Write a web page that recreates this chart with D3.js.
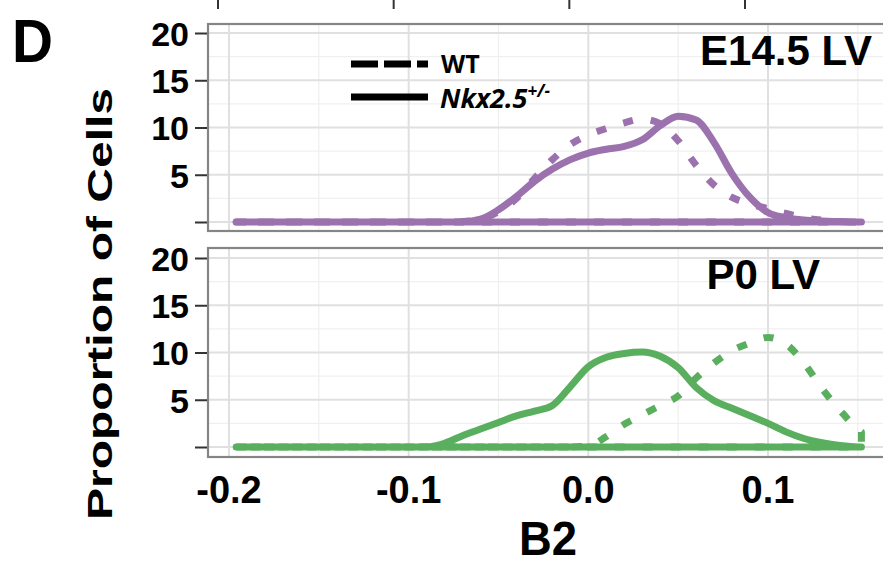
<!DOCTYPE html>
<html>
<head>
<meta charset="utf-8">
<script src="https://cdn.jsdelivr.net/npm/d3@7"></script>
<style>
  body { margin: 0; background: #fff; }
  text { font-family: "Liberation Sans", Arial, sans-serif; font-weight: bold; fill: #000; }
  .legend text { font-family: "Open Sans", sans-serif; }
</style>
</head>
<body>
<div id="container"></div>
<script>
// B2 grid shared by all density curves
var b2 = [-0.196, -0.10, -0.09, -0.08, -0.07, -0.06, -0.05, -0.04, -0.03, -0.02, -0.01,
          0.00, 0.01, 0.02, 0.03, 0.04, 0.05, 0.06, 0.07, 0.08, 0.09, 0.10, 0.11, 0.12,
          0.13, 0.14, 0.15, 0.152];
// E14.5 LV
var e14Wt  = [0, 0, 0, 0, 0.05, 0.3, 1.1, 2.5, 4.6, 6.6, 8.2, 9.2, 9.9, 10.5, 10.9, 10.4,
              8.6, 6.0, 3.9, 2.6, 1.9, 1.4, 0.9, 0.45, 0.2, 0.05, 0, 0];
var e14Nkx = [0, 0, 0, 0, 0.03, 0.3, 1.3, 2.7, 4.3, 5.6, 6.6, 7.3, 7.7, 8.0, 8.7, 10.2,
              11.2, 10.8, 8.4, 5.1, 2.6, 1.0, 0.45, 0.2, 0.1, 0.05, 0, 0];
// P0 LV
var p0Wt   = [0, 0, 0, 0, 0, 0, 0, 0, 0, 0, 0, 0.1, 1.1, 2.4, 3.4, 4.4, 5.4, 7.3, 8.9,
              10.2, 11.0, 11.6, 10.9, 8.9, 6.2, 3.9, 1.9, 1.6];
var p0Nkx  = [0, 0, 0.02, 0.4, 1.2, 1.9, 2.6, 3.3, 3.8, 4.4, 6.4, 8.5, 9.5, 9.9, 10.05,
              9.6, 8.4, 6.3, 4.9, 4.1, 3.3, 2.5, 1.6, 0.9, 0.45, 0.15, 0, 0];

var panelNames = ["E14.5 LV", "P0 LV"];
var yTicks = [0, 5, 10, 15, 20];
var yTickLabels = ["", "5", "10", "15", "20"];
var xTicks = [-0.2, -0.1, 0.0, 0.1];
var xTickLabels = ["-0.2", "-0.1", "0.0", "0.1"];

var W = 883, H = 566;
var svg = d3.select("div#container").append("svg").attr("width", W).attr("height", H);

var x = d3.scaleLinear().domain([-0.2, 0.1]).range([229, 768]);
var panelLeft = 208, panelRight = 900;

var panels = [
  {name: panelNames[0], top: 24, bottom: 231, y0: 222, y20: 33, wt: e14Wt, nkx: e14Nkx,
   color: "#9b72ae", tx: 872, ty: 65},
  {name: panelNames[1], top: 248, bottom: 457, y0: 447, y20: 258, wt: p0Wt, nkx: p0Nkx,
   color: "#5aaf5f", tx: 820, ty: 289}
];

// leftover ticks of the panel above
var stub = d3.scaleLinear().domain([0, 3]).range([218, 745]);
svg.selectAll("line.stub").data(d3.range(4)).enter().append("line")
  .attr("x1", stub).attr("x2", stub).attr("y1", 0).attr("y2", 9)
  .attr("stroke", "#333").attr("stroke-width", 2);

panels.forEach(function(p, i) {
  var y = d3.scaleLinear().domain([0, 20]).range([p.y0, p.y20]);
  var g = svg.append("g");

  g.append("clipPath").attr("id", "clip" + i).append("rect")
    .attr("x", panelLeft).attr("y", p.top)
    .attr("width", panelRight - panelLeft).attr("height", p.bottom - p.top);

  g.append("rect").attr("x", panelLeft).attr("y", p.top)
    .attr("width", panelRight - panelLeft).attr("height", p.bottom - p.top)
    .attr("fill", "#fff");

  var grid = g.append("g").attr("clip-path", "url(#clip" + i + ")");
  // minor grid
  grid.selectAll("line.minx").data([-0.25, -0.15, -0.05, 0.05, 0.15]).enter().append("line")
    .attr("x1", x).attr("x2", x).attr("y1", p.top).attr("y2", p.bottom)
    .attr("stroke", "#f0f0f0").attr("stroke-width", 1.3);
  grid.selectAll("line.miny").data([2.5, 7.5, 12.5, 17.5]).enter().append("line")
    .attr("y1", y).attr("y2", y).attr("x1", panelLeft).attr("x2", panelRight)
    .attr("stroke", "#f0f0f0").attr("stroke-width", 1.3);
  // major grid
  grid.selectAll("line.majx").data(xTicks).enter().append("line")
    .attr("x1", x).attr("x2", x).attr("y1", p.top).attr("y2", p.bottom)
    .attr("stroke", "#e0e0e0").attr("stroke-width", 2);
  grid.selectAll("line.majy").data(yTicks).enter().append("line")
    .attr("y1", y).attr("y2", y).attr("x1", panelLeft).attr("x2", panelRight)
    .attr("stroke", "#e0e0e0").attr("stroke-width", 2);

  // densities drawn as closed outlines, like geom_density
  var area = d3.area()
    .x(function(d) { return x(d[0]); })
    .y0(y(0))
    .y1(function(d) { return y(d[1]); })
    .curve(d3.curveMonotoneX);

  grid.append("path").datum(d3.zip(b2, p.wt))
    .attr("d", area).attr("fill", "none").attr("stroke", p.color)
    .attr("stroke-width", 7).attr("stroke-dasharray", "10,18").attr("stroke-linejoin", "round");
  grid.append("path").datum(d3.zip(b2, p.nkx))
    .attr("d", area).attr("fill", "none").attr("stroke", p.color)
    .attr("stroke-width", 7).attr("stroke-linejoin", "round");

  // panel border
  g.append("rect").attr("x", panelLeft).attr("y", p.top)
    .attr("width", panelRight - panelLeft).attr("height", p.bottom - p.top)
    .attr("fill", "none").attr("stroke", "#858585").attr("stroke-width", 2.2);

  // y axis
  var yAxis = d3.axisLeft(y).tickValues(yTicks)
    .tickFormat(function(d, k) { return yTickLabels[k]; })
    .tickSize(12).tickPadding(6);
  var ya = svg.append("g").attr("transform", "translate(" + (panelLeft - 1) + ",0)").call(yAxis);
  ya.select(".domain").remove();
  ya.selectAll(".tick line").attr("stroke", "#333").attr("stroke-width", 2);
  ya.selectAll(".tick text").style("font-size", "34px").attr("dy", "0.36em");

  g.append("text").attr("x", p.tx).attr("y", p.ty).attr("text-anchor", "end")
    .style("font-size", "42px").text(p.name);
});

// x axis labels under bottom panel
svg.append("g").selectAll("text").data(xTicks).enter().append("text")
  .attr("x", function(d) { return x(d); }).attr("y", 503)
  .attr("text-anchor", "middle").style("font-size", "38px")
  .text(function(d, k) { return xTickLabels[k]; });

svg.append("text").attr("x", 548).attr("y", 555).attr("text-anchor", "middle")
  .attr("textLength", 58).attr("lengthAdjust", "spacingAndGlyphs")
  .style("font-size", "48px").text("B2");

svg.append("text").attr("transform", "translate(112,304) rotate(-90)")
  .attr("text-anchor", "middle").attr("textLength", 432).attr("lengthAdjust", "spacingAndGlyphs")
  .style("font-size", "35px").text("Proportion of Cells");

svg.append("text").attr("x", 12).attr("y", 62)
  .attr("textLength", 41).attr("lengthAdjust", "spacingAndGlyphs")
  .style("font-size", "62px").text("D");

// legend
var legend = svg.append("g").attr("class", "legend");
legend.append("line").attr("x1", 351).attr("x2", 428).attr("y1", 64).attr("y2", 64)
  .attr("stroke", "#000").attr("stroke-width", 7).attr("stroke-dasharray", "27,6");
legend.append("line").attr("x1", 351).attr("x2", 428).attr("y1", 97).attr("y2", 97)
  .attr("stroke", "#000").attr("stroke-width", 7);
legend.append("text").attr("x", 441).attr("y", 73).style("font-size", "25px").text("WT");
var nk = legend.append("text").attr("x", 440).attr("y", 108)
  .style("font-size", "27px").style("font-style", "italic");
nk.append("tspan").text("Nkx2.5");
nk.append("tspan").attr("dy", -11).style("font-size", "17px").text("+/-");
</script>
</body>
</html>
